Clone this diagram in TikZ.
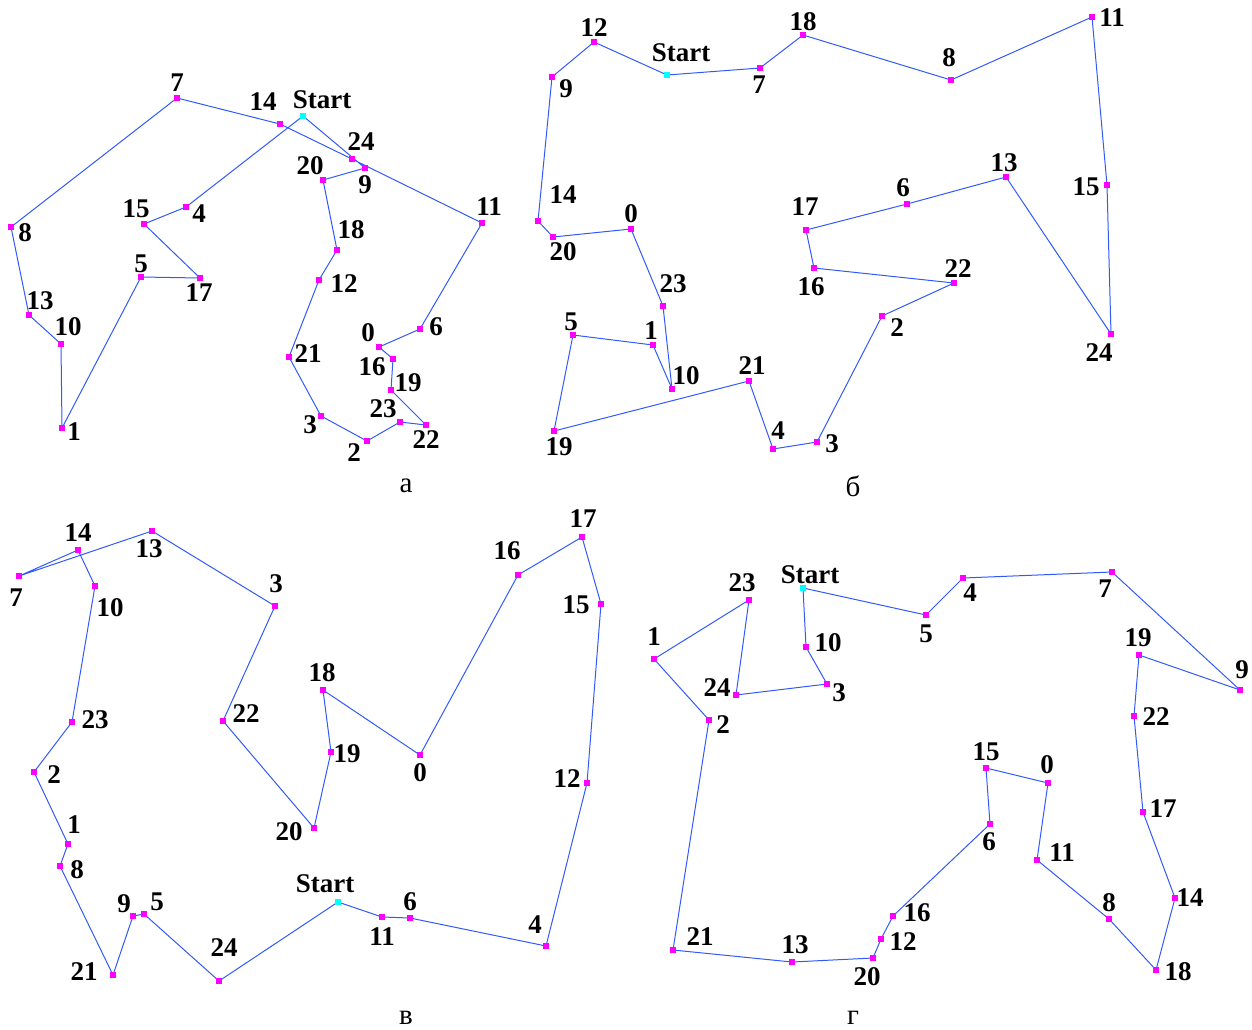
\documentclass[tikz,border=0pt]{standalone}
\usepackage{fontspec}
\setmainfont{Liberation Serif}
\usepackage{tikz}
\usetikzlibrary{positioning,backgrounds}
\definecolor{TourBlue}{RGB}{50, 90, 250}
\definecolor{CityPink}{RGB}{255, 0, 255}
\definecolor{StartCyan}{RGB}{0, 255, 255}

\begin{document}
\begin{tikzpicture}[x=0.5pt, y=-0.5pt,
    city/.style={rectangle, fill=CityPink, inner sep=0pt, minimum size=2.6pt},
    startcity/.style={city, fill=StartCyan},
    num/.style={inner sep=0pt, font=\fontsize{13.5}{15}\selectfont\bfseries},
    caption/.style={inner sep=0pt, font=\fontsize{14.5}{16}\selectfont},
    tour/.style={TourBlue, line width=0.5pt}]
    \useasboundingbox (0,0) rectangle (1252,1029);

    % Panel a: nodes
    \node[startcity] (aS) at (303,116) {}; \node[num] (aSl) at (322,100) {Start};
    \node[city] (a0) at (379,347) {}; \node[num] (a0l) at (368,333) {0};
    \node[city] (a1) at (62,428) {}; \node[num] (a1l) at (74,432) {1};
    \node[city] (a2) at (367,441) {}; \node[num] (a2l) at (354,453) {2};
    \node[city] (a3) at (321,416) {}; \node[num] (a3l) at (310,425) {3};
    \node[city] (a4) at (186,207) {}; \node[num] (a4l) at (199,214) {4};
    \node[city] (a5) at (141,277) {}; \node[num] (a5l) at (141,264) {5};
    \node[city] (a6) at (420,329) {}; \node[num] (a6l) at (436,327) {6};
    \node[city] (a7) at (177,98) {}; \node[num] (a7l) at (177,83) {7};
    \node[city] (a8) at (11,227) {}; \node[num] (a8l) at (25,233) {8};
    \node[city] (a9) at (365,168) {}; \node[num] (a9l) at (365,185) {9};
    \node[city] (a10) at (61,344) {}; \node[num] (a10l) at (68,327) {10};
    \node[city] (a11) at (482,223) {}; \node[num] (a11l) at (489,207) {11};
    \node[city] (a12) at (319,280) {}; \node[num] (a12l) at (344,284) {12};
    \node[city] (a13) at (29,315) {}; \node[num] (a13l) at (40,301) {13};
    \node[city] (a14) at (280,124) {}; \node[num] (a14l) at (263,102) {14};
    \node[city] (a15) at (144,224) {}; \node[num] (a15l) at (136,209) {15};
    \node[city] (a16) at (393,359) {}; \node[num] (a16l) at (372,367) {16};
    \node[city] (a17) at (200,278) {}; \node[num] (a17l) at (199,293) {17};
    \node[city] (a18) at (337,250) {}; \node[num] (a18l) at (351,230) {18};
    \node[city] (a19) at (391,390) {}; \node[num] (a19l) at (408,383) {19};
    \node[city] (a20) at (323,180) {}; \node[num] (a20l) at (310,166) {20};
    \node[city] (a21) at (289,357) {}; \node[num] (a21l) at (308,354) {21};
    \node[city] (a22) at (426,425) {}; \node[num] (a22l) at (426,440) {22};
    \node[city] (a23) at (400,422) {}; \node[num] (a23l) at (383,409) {23};
    \node[city] (a24) at (352,159) {}; \node[num] (a24l) at (361,142) {24};
    \node[caption] (acap) at (406,486) {а};

    % Panel b: nodes
    \node[startcity] (bS) at (667,75) {}; \node[num] (bSl) at (681,53) {Start};
    \node[city] (b0) at (631,229) {}; \node[num] (b0l) at (631,214) {0};
    \node[city] (b1) at (653,345) {}; \node[num] (b1l) at (651,331) {1};
    \node[city] (b2) at (882,316) {}; \node[num] (b2l) at (897,328) {2};
    \node[city] (b3) at (817,442) {}; \node[num] (b3l) at (832,444) {3};
    \node[city] (b4) at (773,449) {}; \node[num] (b4l) at (778,431) {4};
    \node[city] (b5) at (573,335) {}; \node[num] (b5l) at (571,322) {5};
    \node[city] (b6) at (907,204) {}; \node[num] (b6l) at (903,188) {6};
    \node[city] (b7) at (760,68) {}; \node[num] (b7l) at (759,85) {7};
    \node[city] (b8) at (951,80) {}; \node[num] (b8l) at (949,58) {8};
    \node[city] (b9) at (552,77) {}; \node[num] (b9l) at (566,89) {9};
    \node[city] (b10) at (672,389) {}; \node[num] (b10l) at (686,376) {10};
    \node[city] (b11) at (1092,17) {}; \node[num] (b11l) at (1112,18) {11};
    \node[city] (b12) at (594,42) {}; \node[num] (b12l) at (594,28) {12};
    \node[city] (b13) at (1006,177) {}; \node[num] (b13l) at (1004,163) {13};
    \node[city] (b14) at (538,221) {}; \node[num] (b14l) at (563,195) {14};
    \node[city] (b15) at (1107,185) {}; \node[num] (b15l) at (1086,187) {15};
    \node[city] (b16) at (814,268) {}; \node[num] (b16l) at (811,287) {16};
    \node[city] (b17) at (806,230) {}; \node[num] (b17l) at (805,207) {17};
    \node[city] (b18) at (803,35) {}; \node[num] (b18l) at (803,22) {18};
    \node[city] (b19) at (554,431) {}; \node[num] (b19l) at (559,447) {19};
    \node[city] (b20) at (553,237) {}; \node[num] (b20l) at (563,252) {20};
    \node[city] (b21) at (749,381) {}; \node[num] (b21l) at (752,366) {21};
    \node[city] (b22) at (954,283) {}; \node[num] (b22l) at (958,269) {22};
    \node[city] (b23) at (663,306) {}; \node[num] (b23l) at (673,284) {23};
    \node[city] (b24) at (1111,334) {}; \node[num] (b24l) at (1099,353) {24};
    \node[caption] (bcap) at (853,486) {б};

    % Panel c: nodes
    \node[startcity] (cS) at (338,902) {}; \node[num] (cSl) at (325,884) {Start};
    \node[city] (c0) at (420,755) {}; \node[num] (c0l) at (420,773) {0};
    \node[city] (c1) at (68,844) {}; \node[num] (c1l) at (74,825) {1};
    \node[city] (c2) at (34,772) {}; \node[num] (c2l) at (54,775) {2};
    \node[city] (c3) at (275,606) {}; \node[num] (c3l) at (276,584) {3};
    \node[city] (c4) at (546,946) {}; \node[num] (c4l) at (535,925) {4};
    \node[city] (c5) at (144,914) {}; \node[num] (c5l) at (157,902) {5};
    \node[city] (c6) at (410,918) {}; \node[num] (c6l) at (410,902) {6};
    \node[city] (c7) at (19,576) {}; \node[num] (c7l) at (16,598) {7};
    \node[city] (c8) at (60,866) {}; \node[num] (c8l) at (77,870) {8};
    \node[city] (c9) at (133,916) {}; \node[num] (c9l) at (124,904) {9};
    \node[city] (c10) at (95,586) {}; \node[num] (c10l) at (110,608) {10};
    \node[city] (c11) at (382,917) {}; \node[num] (c11l) at (382,937) {11};
    \node[city] (c12) at (587,783) {}; \node[num] (c12l) at (567,779) {12};
    \node[city] (c13) at (152,531) {}; \node[num] (c13l) at (149,549) {13};
    \node[city] (c14) at (78,550) {}; \node[num] (c14l) at (78,533) {14};
    \node[city] (c15) at (601,604) {}; \node[num] (c15l) at (576,605) {15};
    \node[city] (c16) at (518,575) {}; \node[num] (c16l) at (507,551) {16};
    \node[city] (c17) at (582,537) {}; \node[num] (c17l) at (583,519) {17};
    \node[city] (c18) at (323,690) {}; \node[num] (c18l) at (322,673) {18};
    \node[city] (c19) at (331,752) {}; \node[num] (c19l) at (347,754) {19};
    \node[city] (c20) at (314,828) {}; \node[num] (c20l) at (289,832) {20};
    \node[city] (c21) at (113,975) {}; \node[num] (c21l) at (84,972) {21};
    \node[city] (c22) at (223,721) {}; \node[num] (c22l) at (246,714) {22};
    \node[city] (c23) at (72,722) {}; \node[num] (c23l) at (95,720) {23};
    \node[city] (c24) at (219,981) {}; \node[num] (c24l) at (224,948) {24};
    \node[caption] (ccap) at (406,1018) {в};

    % Panel d: nodes
    \node[startcity] (dS) at (803,588) {}; \node[num] (dSl) at (810,575) {Start};
    \node[city] (d0) at (1048,783) {}; \node[num] (d0l) at (1047,765) {0};
    \node[city] (d1) at (654,659) {}; \node[num] (d1l) at (654,637) {1};
    \node[city] (d2) at (709,720) {}; \node[num] (d2l) at (723,725) {2};
    \node[city] (d3) at (827,684) {}; \node[num] (d3l) at (839,693) {3};
    \node[city] (d4) at (963,578) {}; \node[num] (d4l) at (970,593) {4};
    \node[city] (d5) at (926,615) {}; \node[num] (d5l) at (926,634) {5};
    \node[city] (d6) at (990,824) {}; \node[num] (d6l) at (989,842) {6};
    \node[city] (d7) at (1112,572) {}; \node[num] (d7l) at (1105,589) {7};
    \node[city] (d8) at (1109,919) {}; \node[num] (d8l) at (1109,903) {8};
    \node[city] (d9) at (1240,690) {}; \node[num] (d9l) at (1242,670) {9};
    \node[city] (d10) at (806,647) {}; \node[num] (d10l) at (828,643) {10};
    \node[city] (d11) at (1037,860) {}; \node[num] (d11l) at (1062,853) {11};
    \node[city] (d12) at (881,939) {}; \node[num] (d12l) at (903,942) {12};
    \node[city] (d13) at (792,962) {}; \node[num] (d13l) at (795,945) {13};
    \node[city] (d14) at (1175,898) {}; \node[num] (d14l) at (1190,898) {14};
    \node[city] (d15) at (986,768) {}; \node[num] (d15l) at (986,752) {15};
    \node[city] (d16) at (893,916) {}; \node[num] (d16l) at (917,913) {16};
    \node[city] (d17) at (1143,812) {}; \node[num] (d17l) at (1163,809) {17};
    \node[city] (d18) at (1156,970) {}; \node[num] (d18l) at (1178,972) {18};
    \node[city] (d19) at (1139,655) {}; \node[num] (d19l) at (1138,638) {19};
    \node[city] (d20) at (873,958) {}; \node[num] (d20l) at (867,977) {20};
    \node[city] (d21) at (673,950) {}; \node[num] (d21l) at (700,937) {21};
    \node[city] (d22) at (1134,716) {}; \node[num] (d22l) at (1156,717) {22};
    \node[city] (d23) at (749,600) {}; \node[num] (d23l) at (742,583) {23};
    \node[city] (d24) at (736,695) {}; \node[num] (d24l) at (717,688) {24};
    \node[caption] (dcap) at (853,1018) {г};

    % Tours
    \begin{scope}[on background layer]
    \draw[tour] (aS.center) -- (a9.center) -- (a20.center) -- (a18.center) -- (a12.center) -- (a21.center) -- (a3.center) -- (a2.center) -- (a23.center) -- (a22.center) -- (a19.center) -- (a16.center) -- (a0.center) -- (a6.center) -- (a11.center) -- (a24.center) -- (a14.center) -- (a7.center) -- (a8.center) -- (a13.center) -- (a10.center) -- (a1.center) -- (a5.center) -- (a17.center) -- (a15.center) -- (a4.center) -- (aS.center);
    \draw[tour] (bS.center) -- (b12.center) -- (b9.center) -- (b14.center) -- (b20.center) -- (b0.center) -- (b23.center) -- (b10.center) -- (b1.center) -- (b5.center) -- (b19.center) -- (b21.center) -- (b4.center) -- (b3.center) -- (b2.center) -- (b22.center) -- (b16.center) -- (b17.center) -- (b6.center) -- (b13.center) -- (b24.center) -- (b15.center) -- (b11.center) -- (b8.center) -- (b18.center) -- (b7.center) -- (bS.center);
    \draw[tour] (cS.center) -- (c11.center) -- (c6.center) -- (c4.center) -- (c12.center) -- (c15.center) -- (c17.center) -- (c16.center) -- (c0.center) -- (c18.center) -- (c19.center) -- (c20.center) -- (c22.center) -- (c3.center) -- (c13.center) -- (c7.center) -- (c14.center) -- (c10.center) -- (c23.center) -- (c2.center) -- (c1.center) -- (c8.center) -- (c21.center) -- (c9.center) -- (c5.center) -- (c24.center) -- (cS.center);
    \draw[tour] (dS.center) -- (d10.center) -- (d3.center) -- (d24.center) -- (d23.center) -- (d1.center) -- (d2.center) -- (d21.center) -- (d13.center) -- (d20.center) -- (d12.center) -- (d16.center) -- (d6.center) -- (d15.center) -- (d0.center) -- (d11.center) -- (d8.center) -- (d18.center) -- (d14.center) -- (d17.center) -- (d22.center) -- (d19.center) -- (d9.center) -- (d7.center) -- (d4.center) -- (d5.center) -- (dS.center);
    \end{scope}
\end{tikzpicture}
\end{document}
